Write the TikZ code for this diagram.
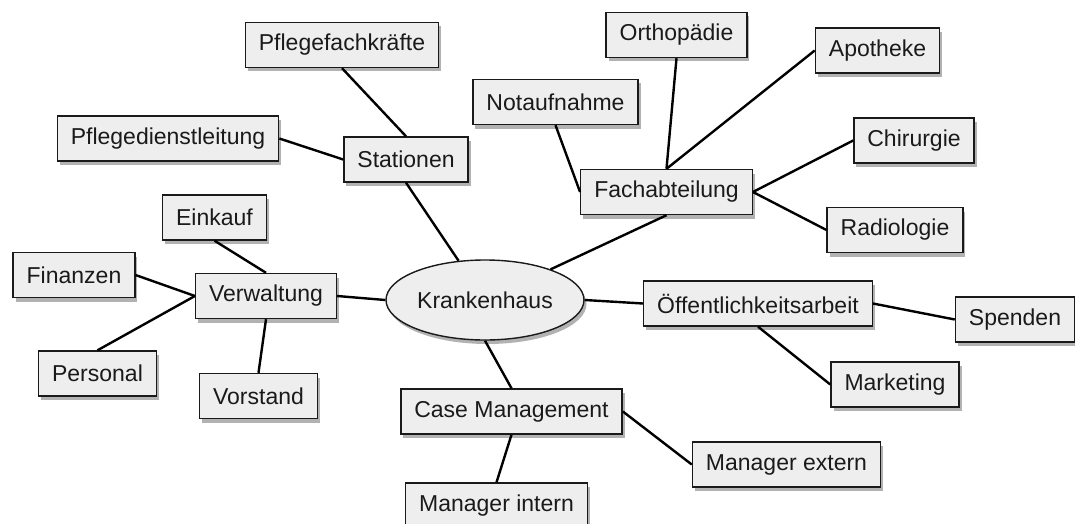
\documentclass[tikz,border=0pt]{standalone}
\usepackage{fontspec}
\setmainfont{Liberation Sans}
\usetikzlibrary{shapes.geometric,shadows}
\definecolor{boxfill}{HTML}{EEEEEE}
\definecolor{ink}{HTML}{1A1A1A}
\begin{document}
\begin{tikzpicture}[x=1pt,y=-1pt,
  topic/.style={draw=ink, line width=1.4pt, fill=boxfill, text=ink,
    font=\fontsize{23}{27}\selectfont, minimum height=45pt, inner xsep=13.5pt,
    drop shadow={shadow xshift=2.5pt, shadow yshift=-4pt, fill=black, opacity=0.3}},
  hub/.style={topic, ellipse, minimum width=198pt, minimum height=80pt, inner xsep=0pt},
  link/.style={draw=black, line width=2.4pt}]
\useasboundingbox (0,0) rectangle (1075,524);

% centre
\node[hub] (kh) at (485,300) {Krankenhaus};

% main branches
\node[topic] (sta) at (406,159.5) {Stationen};
\node[topic] (fach) at (666.5,192) {Fachabteilung};
\node[topic] (verw) at (266,296) {Verwaltung};
\node[topic] (oeff) at (758,303.5) {Öffentlichkeitsarbeit};
\node[topic] (case) at (511.5,411.5) {Case Management};

% leaves
\node[topic] (pfk) at (342,45) {Pflegefachkräfte};
\node[topic] (pdl) at (168,138.5) {Pflegedienstleitung};
\node[topic] (orth) at (676.5,35) {Orthopädie};
\node[topic] (apo) at (877.5,50.5) {Apotheke};
\node[topic] (nota) at (555.5,102) {Notaufnahme};
\node[topic] (chir) at (914,140.5) {Chirurgie};
\node[topic] (radio) at (895,230) {Radiologie};
\node[topic] (eink) at (214.5,217.5) {Einkauf};
\node[topic] (fin) at (74,275) {Finanzen};
\node[topic] (pers) at (97.5,373.5) {Personal};
\node[topic] (vor) at (258.5,396) {Vorstand};
\node[topic] (spe) at (1015,319.5) {Spenden};
\node[topic] (mark) at (895,384.5) {Marketing};
\node[topic] (mext) at (786.5,464.5) {Manager extern};
\node[topic] (mint) at (496.5,505.5) {Manager intern};

% connectors
\draw[link] (kh.west) -- (verw.east);
\draw[link] (kh) -- (sta.south);
\draw[link] (kh) -- (fach.south);
\draw[link] (kh.east) -- (oeff.west);
\draw[link] (kh.south) -- (case.north);

\draw[link] (sta.north) -- (pfk.south);
\draw[link] (sta.west) -- (pdl.east);

\draw[link] (fach.north) -- (orth.south);
\draw[link] (fach.north) -- (apo.west);
\draw[link] (fach.west) -- (nota.south);
\draw[link] (fach.east) -- (chir.west);
\draw[link] (fach.east) -- (radio.west);

\draw[link] (verw.north) -- (eink.south);
\draw[link] (verw.west) -- (fin.east);
\draw[link] (verw.west) -- (pers.north);
\draw[link] (verw.south) -- (vor.north);

\draw[link] (oeff.east) -- (spe.west);
\draw[link] (oeff.south) -- (mark.west);

\draw[link] (case.east) -- (mext.west);
\draw[link] (case.south) -- (mint.north);
\end{tikzpicture}
\end{document}
